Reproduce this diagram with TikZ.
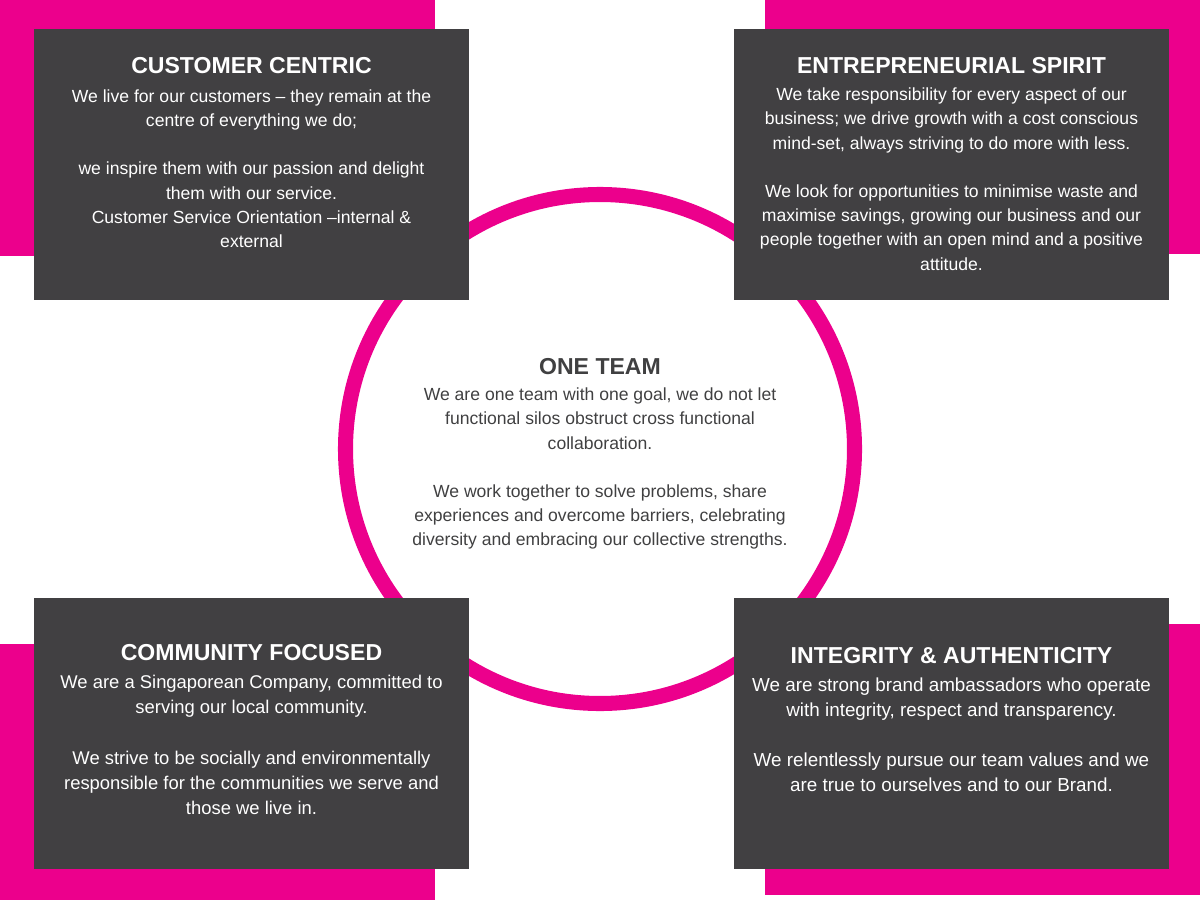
\documentclass[tikz,border=0pt]{standalone}
\usepackage{fontspec}
\setmainfont{Liberation Sans}
\usetikzlibrary{positioning}

\definecolor{brandpink}{HTML}{EC008C}
\definecolor{boxgrey}{HTML}{414042}
\definecolor{textgrey}{HTML}{404041}

\begin{document}
\begin{tikzpicture}[x=0.025cm,y=-0.025cm,
	pinkblock/.style={fill=brandpink},
	valuebox/.style={fill=boxgrey,minimum width=10.875cm,minimum height=6.775cm,inner sep=0pt,outer sep=0pt,anchor=north west},
	valuetitle/.style={inner sep=0pt,anchor=base,font=\bfseries\fontsize{16.4}{19}\selectfont},
	valuetext/.style={inner sep=0pt,align=center,font=\fontsize{12.5}{17.2}\selectfont},
	valuetextbig/.style={inner sep=0pt,align=center,font=\fontsize{13.1}{17.8}\selectfont}]
	\useasboundingbox (0,0) rectangle (1200,900);

	\fill [pinkblock] (0,0) rectangle (435,256);
	\fill [pinkblock] (765,0) rectangle (1200,254);
	\fill [pinkblock] (0,644) rectangle (435,900);
	\fill [pinkblock] (765,624) rectangle (1200,895);

	\draw [brandpink,line width=10.7pt] (600,449) circle (254.5);

	\node [valuebox] at (34,29) (cust_box) {};
	\node [valuebox] at (734,29) (entre_box) {};
	\node [valuebox] at (34,598) (comm_box) {};
	\node [valuebox] at (734,598) (integ_box) {};

	\node [valuetitle,white] at (251.5,74) (cust_title) {CUSTOMER CENTRIC};
	\node [valuetext,white,below=0.37cm of cust_title] (cust_text) {We live for our customers -- they remain at the\\centre of everything we do;\\[17.2pt]we inspire them with our passion and delight\\them with our service.\\Customer Service Orientation --internal \&\\external};

	\node [valuetitle,white] at (951.5,74) (entre_title) {ENTREPRENEURIAL SPIRIT};
	\node [valuetext,white,below=0.33cm of entre_title] (entre_text) {We take responsibility for every aspect of our\\business; we drive growth with a cost conscious\\mind-set, always striving to do more with less.\\[17.2pt]We look for opportunities to minimise waste and\\maximise savings, growing our business and our\\people together with an open mind and a positive\\attitude.};

	\node [valuetitle,white] at (251.5,660) (comm_title) {COMMUNITY FOCUSED};
	\node [valuetextbig,white,below=0.37cm of comm_title] (comm_text) {We are a Singaporean Company, committed to\\serving our local community.\\[17.8pt]We strive to be socially and environmentally\\responsible for the communities we serve and\\those we live in.};

	\node [valuetitle,white] at (951.5,663) (integ_title) {INTEGRITY \& AUTHENTICITY};
	\node [valuetextbig,white,font=\fontsize{13.4}{17.8}\selectfont,below=0.36cm of integ_title] (integ_text) {We are strong brand ambassadors who operate\\with integrity, respect and transparency.\\[17.8pt]We relentlessly pursue our team values and we\\are true to ourselves and to our Brand.};

	\node [valuetitle,textgrey] at (600,374) (team_title) {ONE TEAM};
	\node [valuetext,textgrey,below=0.33cm of team_title] (team_text) {We are one team with one goal, we do not let\\functional silos obstruct cross functional\\collaboration.\\[17.2pt]We work together to solve problems, share\\experiences and overcome barriers, celebrating\\diversity and embracing our collective strengths.};
\end{tikzpicture}
\end{document}
